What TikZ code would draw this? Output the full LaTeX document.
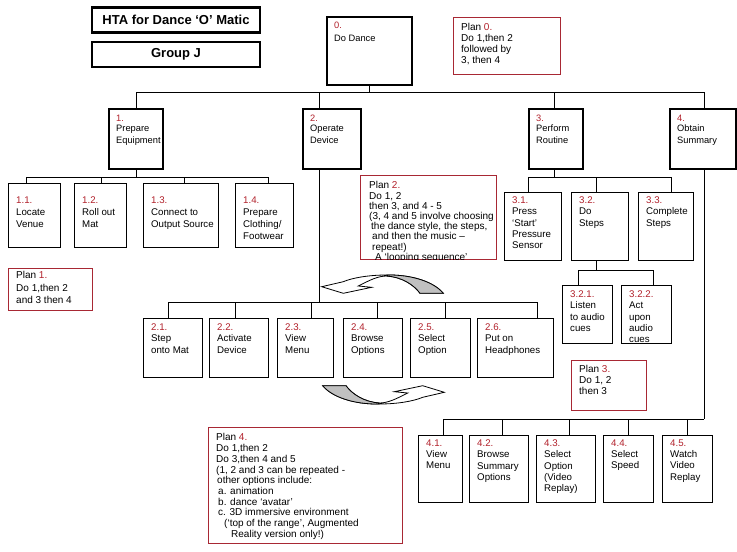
\documentclass[tikz,border=0pt]{standalone}
\usepackage{fontspec}
\setmainfont{Liberation Sans}
\usepackage{tikz}

\definecolor{numred}{RGB}{178,34,44}
\definecolor{planred}{RGB}{168,40,52}
\definecolor{arrowgrey}{RGB}{192,192,192}

\newcommand{\no}[1]{\textcolor{numred}{#1}}

% box with its text set at the top left
\newcommand{\taskbox}[7][task]{%
  \node[#1, minimum width=#4, minimum height=#5] (#2) at (#3) {};
  \node[#1text] (#2-txt) at ([shift={(8,#6)}]#2.north west) {#7};}

\tikzset{
  htatitle/.style={draw, line width=2.6pt, minimum width=168, minimum height=25,
    font=\fontsize{13}{15}\selectfont\bfseries},
  mainbox/.style={draw, line width=2.4pt, anchor=north west, inner sep=0},
  task/.style={draw, line width=0.9pt, anchor=north west, inner sep=0},
  plan/.style={draw=planred, line width=1.1pt, anchor=north west, inner sep=0},
  tasktext/.style={anchor=north west, inner sep=0, align=left,
    font=\fontsize{9.7}{11.3}\selectfont},
  mainboxtext/.style={tasktext, font=\fontsize{9.3}{11.3}\selectfont},
  plantext/.style={tasktext, font=\fontsize{10}{10.7}\selectfont},
  link/.style={line width=0.9pt},
  looparrow/.pic={
    \draw[fill=white, line width=0.8pt] (-60.3,1.7) -- (-38.7,8.3) -- (-10.3,2.3) -- (-23.7,1)
      .. controls (-12,-5) and (-4,-9) .. (4.7,-9)
      .. controls (20,-8) and (32,0) .. (38,8.3) -- (61.3,8.3)
      .. controls (52,-3) and (30,-10.5) .. (4.7,-10)
      .. controls (-14,-10) and (-30,-7) .. (-38.7,-3.3) -- cycle;
    \draw[fill=arrowgrey, line width=0.8pt] (4.7,-9)
      .. controls (20,-8) and (32,0) .. (38,8.3) -- (61.3,8.3)
      .. controls (52,-3) and (30,-10.5) .. (4.7,-10) -- cycle;
  }
}

\begin{document}
\begin{tikzpicture}[x=1pt, y=-1pt]
\fill[white] (0,0) rectangle (737,552);
\useasboundingbox (0,0) rectangle (737,552);

% titles
\node[htatitle] (hta) at (176,20) {HTA for Dance ‘O’ Matic};
\node[htatitle] (grp) at (176,54.5) {Group J};

% level 0 and 1
\taskbox[mainbox]{t0}{326,16}{85}{68}{5.5}{\no{0.}\\[2pt]Do Dance}
\taskbox[plan]{p0}{453,17}{107}{57}{6.5}{Plan \no{0.}\\Do 1,then 2\\followed by\\3, then 4}
\taskbox[mainbox]{t1}{108,108}{54}{60}{7}{\no{1.}\\[-1.5pt]Prepare\\[1pt]Equipment}
\taskbox[mainbox]{t2}{302,108}{58}{60}{7}{\no{2.}\\[-1.5pt]Operate\\[1pt]Device}
\taskbox[mainbox]{t3}{528,108}{54}{60}{7}{\no{3.}\\[-1.5pt]Perform\\[1pt]Routine}
\taskbox[mainbox]{t4}{669,108}{66}{60}{7}{\no{4.}\\[-1.5pt]Obtain\\[1pt]Summary}

% 1.x
\taskbox{t11}{8,183}{52}{64}{13.5}{\no{1.1.}\\[0.7pt]Locate\\[0.7pt]Venue}
\taskbox{t12}{74,183}{52}{64}{13.5}{\no{1.2.}\\[0.7pt]Roll out\\[0.7pt]Mat}
\taskbox{t13}{143,183}{75}{64}{13.5}{\no{1.3.}\\[0.7pt]Connect to\\[0.7pt]Output Source}
\taskbox{t14}{235,183}{58}{64}{13.5}{\no{1.4.}\\[0.7pt]Prepare\\[0.7pt]Clothing/\\[0.7pt]Footwear}
\taskbox[plan]{p1}{8,268}{84}{42}{3.5}{Plan \no{1.}\\[1.8pt]Do 1,then 2\\[1.8pt]and 3 then 4}

% plan 2, last line cut by the box
\node[plan, minimum width=136, minimum height=84] (p2) at (360,175) {};
\begin{scope}
\clip (p2.north west) rectangle ([shift={(0,-1)}]p2.south east);
\node[plantext, font=\fontsize{10}{10.2}\selectfont] (p2-txt) at ([shift={(9,6.5)}]p2.north west)
  {Plan \no{2.}\\Do 1, 2\\then 3, and 4 - 5\\(3, 4 and 5 involve choosing\\\hspace*{2pt}the dance style, the steps,\\\hspace*{3pt}and then the music --\\\hspace*{3pt}repeat!)\\\hspace*{6pt}A `looping sequence'};
\end{scope}

% 2.x
\taskbox{t21}{143,318}{59}{59}{5.5}{\no{2.1.}\\Step\\onto Mat}
\taskbox{t22}{209,318}{59}{59}{5.5}{\no{2.2.}\\Activate\\Device}
\taskbox{t23}{277,318}{56}{59}{5.5}{\no{2.3.}\\View\\Menu}
\taskbox{t24}{343,318}{59}{59}{5.5}{\no{2.4.}\\Browse\\Options}
\taskbox{t25}{410,318}{60}{59}{5.5}{\no{2.5.}\\Select\\Option}
\taskbox{t26}{477,318}{76}{59}{5.5}{\no{2.6.}\\Put on\\Headphones}

% 3.x
\taskbox{t31}{504,192}{57}{68}{4.5}{\no{3.1.}\\Press\\`Start'\\Pressure\\Sensor}
\taskbox{t32}{571,192}{57}{68}{4.5}{\no{3.2.}\\Do\\Steps}
\taskbox{t33}{638,192}{55}{68}{4.5}{\no{3.3.}\\Complete\\Steps}
\taskbox{t321}{562,285}{50}{58}{5.5}{\no{3.2.1.}\\Listen\\to audio\\cues}
\taskbox{t322}{621,285}{50}{58}{5.5}{\no{3.2.2.}\\Act\\upon\\audio\\cues}
\taskbox[plan]{p3}{571,360}{75}{50}{5.5}{Plan \no{3.}\\Do 1, 2\\then 3}

% 4.x
\taskbox{t41}{418,435}{44}{67}{4.5}{\no{4.1.}\\View\\Menu}
\taskbox{t42}{469,435}{59}{67}{4.5}{\no{4.2.}\\Browse\\Summary\\Options}
\taskbox{t43}{536,435}{59}{67}{4.5}{\no{4.3.}\\Select\\Option\\(Video\\Replay)}
\taskbox{t44}{603,435}{50}{67}{4.5}{\no{4.4.}\\Select\\Speed}
\taskbox{t45}{662,435}{50}{67}{4.5}{\no{4.5.}\\Watch\\Video\\Replay}
\taskbox[plan]{p4}{208,427}{194}{116}{6.5}{Plan \no{4.}\\Do 1,then 2\\Do 3,then 4 and 5\\(1, 2 and 3 can be repeated -\\\hspace*{1pt}other options include:\\\hspace*{2pt}a. animation\\\hspace*{2pt}b. dance `avatar'\\\hspace*{2pt}c. 3D immersive environment\\\hspace*{8pt}(`top of the range', Augmented\\\hspace*{15pt}Reality version only!)}

% connectors
\coordinate (b0) at (0,92);
\draw[link] (t0.south) -- (t0.south |- b0);
\draw[link] (t1.north |- b0) -- ([xshift=1pt]t4.north |- b0);
\draw[link] (t1.north) -- (t1.north |- b0);
\draw[link] ([xshift=-13pt]t2.north) -- ([xshift=-13pt]t2.north |- b0);
\draw[link] ([xshift=-2pt]t3.north) -- ([xshift=-2pt]t3.north |- b0);
\draw[link] ([xshift=1pt]t4.north) -- ([xshift=1pt]t4.north |- b0);

\coordinate (b1) at (0,177);
\draw[link] (t1.south) -- (t1.south |- b1);
\draw[link] ([xshift=-8pt]t11.north |- b1) -- ([xshift=4pt]t14.north |- b1);
\draw[link] ([xshift=-8pt]t11.north) -- ([xshift=-8pt]t11.north |- b1);
\draw[link] ([xshift=1pt]t12.north) -- ([xshift=1pt]t12.north |- b1);
\draw[link] ([xshift=3.5pt]t13.north) -- ([xshift=3.5pt]t13.north |- b1);
\draw[link] ([xshift=4pt]t14.north) -- ([xshift=4pt]t14.north |- b1);

\coordinate (b2) at (0,302);
\draw[link] ([xshift=-13pt]t2.south) -- ([xshift=-13pt]t2.south |- b2);
\draw[link] ([xshift=-4.5pt]t21.north |- b2) -- ([xshift=22pt]t26.north |- b2);
\draw[link] ([xshift=-4.5pt]t21.north) -- ([xshift=-4.5pt]t21.north |- b2);
\draw[link] ([xshift=-3.5pt]t22.north) -- ([xshift=-3.5pt]t22.north |- b2);
\draw[link] ([xshift=6pt]t23.north) -- ([xshift=6pt]t23.north |- b2);
\draw[link] ([xshift=4.5pt]t24.north) -- ([xshift=4.5pt]t24.north |- b2);
\draw[link] ([xshift=5pt]t25.north) -- ([xshift=5pt]t25.north |- b2);
\draw[link] ([xshift=22pt]t26.north) -- ([xshift=22pt]t26.north |- b2);

\coordinate (b3) at (0,177);
\draw[link] ([xshift=-2pt]t3.south) -- ([xshift=-2pt]t3.south |- b3);
\draw[link] ([xshift=-4.5pt]t31.north |- b3) -- ([xshift=5.5pt]t33.north |- b3);
\draw[link] ([xshift=-4.5pt]t31.north) -- ([xshift=-4.5pt]t31.north |- b3);
\draw[link] ([xshift=-3.5pt]t32.north) -- ([xshift=-3.5pt]t32.north |- b3);
\draw[link] ([xshift=5.5pt]t33.north) -- ([xshift=5.5pt]t33.north |- b3);

\coordinate (b32) at (0,270);
\draw[link] ([xshift=-3.5pt]t32.south) -- ([xshift=-3.5pt]t32.south |- b32);
\draw[link] ([xshift=-9pt]t321.north |- b32) -- ([xshift=7pt]t322.north |- b32);
\draw[link] ([xshift=-9pt]t321.north) -- ([xshift=-9pt]t321.north |- b32);
\draw[link] ([xshift=7pt]t322.north) -- ([xshift=7pt]t322.north |- b32);

\coordinate (b4) at (0,419);
\draw[link] ([xshift=1pt]t4.south) -- ([xshift=1pt]t4.south |- b4);
\draw[link] ([xshift=3pt]t41.north |- b4) -- ([xshift=1pt]t4.south |- b4);
\draw[link] ([xshift=3pt]t41.north) -- ([xshift=3pt]t41.north |- b4);
\draw[link] ([xshift=3.5pt]t42.north) -- ([xshift=3.5pt]t42.north |- b4);
\draw[link] ([xshift=3.5pt]t43.north) -- ([xshift=3.5pt]t43.north |- b4);
\draw[link] (t44.north) -- (t44.north |- b4);
\draw[link] (t45.north) -- (t45.north |- b4);

% looping arrows
\pic at (382,285) {looparrow};
\pic[rotate=180] at (384,394) {looparrow};
\end{tikzpicture}
\end{document}
